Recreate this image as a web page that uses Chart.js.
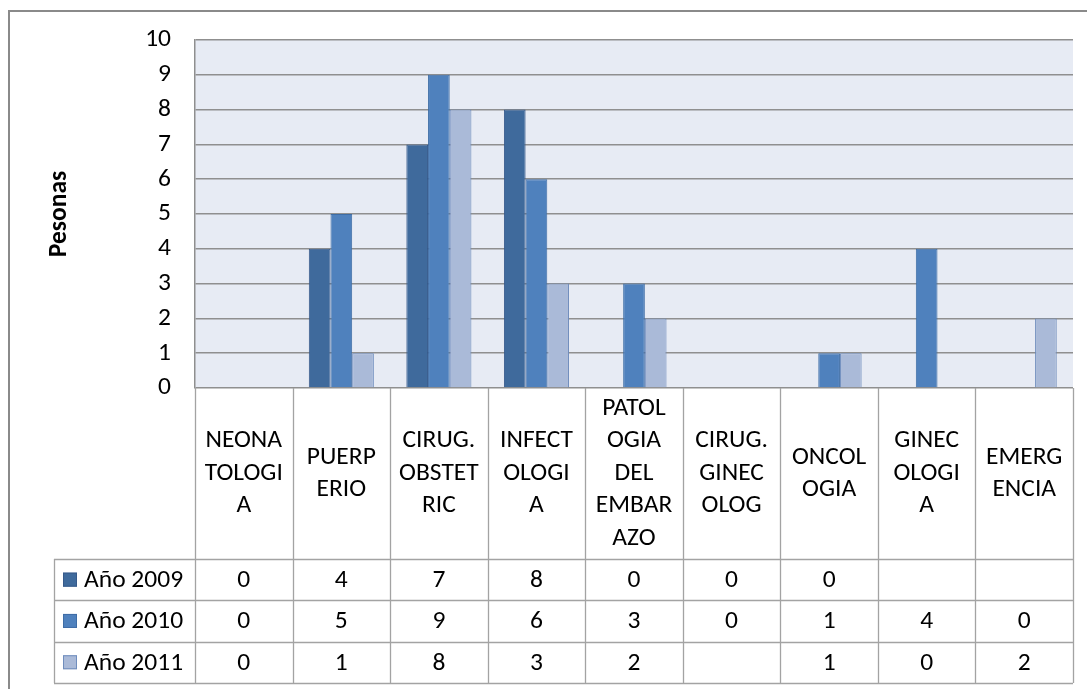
<!DOCTYPE html>
<html>
<head>
<meta charset="utf-8">
<script src="https://cdn.jsdelivr.net/npm/chart.js@4.4.1/dist/chart.umd.min.js"></script>
<style>
  html, body { margin: 0; padding: 0; background: #ffffff; }
  #wrap { width: 1087px; height: 689px; }
</style>
</head>
<body>
<div id="wrap"><canvas id="c" width="1087" height="689"></canvas></div>
<script>
// Servicios (etiquetas partidas en líneas como en la tabla de datos)
const categories = [
  ["NEONA", "TOLOGI", "A"],
  ["PUERP", "ERIO"],
  ["CIRUG.", "OBSTET", "RIC"],
  ["INFECT", "OLOGI", "A"],
  ["PATOL", "OGIA", "DEL", "EMBAR", "AZO"],
  ["CIRUG.", "GINEC", "OLOG"],
  ["ONCOL", "OGIA"],
  ["GINEC", "OLOGI", "A"],
  ["EMERG", "ENCIA"]
];
const seriesNames = ["Año 2009", "Año 2010", "Año 2011"];
const values2009 = [0, 4, 7, 8, 0, 0, 0, null, null];
const values2010 = [0, 5, 9, 6, 3, 0, 1, 4, 0];
const values2011 = [0, 1, 8, 3, 2, null, 1, 0, 2];
const yTicks = [0, 1, 2, 3, 4, 5, 6, 7, 8, 9, 10];
const axisTitle = "Pesonas";

const FONT = "Carlito, Lato, 'Liberation Sans', sans-serif";
const FONT_SIZE = 25.5;
const fills = ["#3F6A9C", "#4F81BD", "#AABAD8"];
const strokes = ["#36598A", "#3E6DA6", "#6F8DBD"];
const allSeries = [values2009, values2010, values2011];

// Fondo del área de trazado y marco exterior
const backgroundPlugin = {
  id: "plotBackground",
  beforeDraw(chart) {
    const { ctx, chartArea: a } = chart;
    ctx.save();
    ctx.fillStyle = "#ffffff";
    ctx.fillRect(0, 0, chart.width, chart.height);
    ctx.strokeStyle = "#8a8a8a";
    ctx.lineWidth = 2;
    ctx.strokeRect(9, 11, 2000, 2000);
    ctx.fillStyle = "#E7EBF4";
    ctx.fillRect(a.left, a.top, a.right - a.left, a.bottom - a.top);
    ctx.restore();
  }
};

// Tabla de datos bajo el eje de categorías
const dataTablePlugin = {
  id: "dataTable",
  afterDraw(chart) {
    const { ctx, chartArea: a } = chart;
    const x = chart.scales.x;
    const n = chart.data.labels.length;
    const colW = (a.right - a.left) / n;
    const headerBottom = 559;
    const rowH = 41.3;
    const tableBottom = headerBottom + rowH * 3;
    const legendLeft = 54;

    ctx.save();
    ctx.strokeStyle = "#a3a3a3";
    ctx.lineWidth = 1.3;
    ctx.beginPath();
    // vertical lines of the category columns
    for (let i = 0; i <= n; i++) {
      const px = Math.round(a.left + i * colW) + 0.5;
      ctx.moveTo(px, a.bottom);
      ctx.lineTo(px, tableBottom);
    }
    // legend column left edge
    ctx.moveTo(legendLeft + 0.5, headerBottom);
    ctx.lineTo(legendLeft + 0.5, tableBottom);
    // horizontal row lines
    for (let r = 0; r <= 3; r++) {
      const py = Math.round(headerBottom + r * rowH) + 0.5;
      ctx.moveTo(legendLeft, py);
      ctx.lineTo(a.right, py);
    }
    ctx.stroke();

    ctx.fillStyle = "#000000";
    ctx.font = FONT_SIZE + "px " + FONT;
    ctx.textAlign = "center";
    ctx.textBaseline = "middle";

    // header: category names, centred in each cell
    const headerMid = (a.bottom + headerBottom) / 2;
    const lineH = 32.5;
    chart.data.labels.forEach((lab, i) => {
      const cx = x.getPixelForValue(i);
      const lines = Array.isArray(lab) ? lab : [lab];
      const y0 = headerMid - (lines.length - 1) * lineH / 2;
      lines.forEach((t, k) => ctx.fillText(t, cx, y0 + k * lineH));
    });

    // value rows with legend keys
    chart.data.datasets.forEach((ds, r) => {
      const cy = headerBottom + rowH * (r + 0.5);
      ctx.fillStyle = ds.backgroundColor;
      ctx.fillRect(63, cy - 7, 14, 14);
      ctx.strokeStyle = ds.borderColor;
      ctx.lineWidth = 1;
      ctx.strokeRect(63.5, cy - 6.5, 13, 13);
      ctx.fillStyle = "#000000";
      ctx.textAlign = "left";
      ctx.fillText(ds.label, 84, cy + 1);
      ctx.textAlign = "center";
      ds.data.forEach((v, i) => {
        if (v === null || v === undefined) return;
        ctx.fillText(String(v), x.getPixelForValue(i), cy + 1);
      });
    });
    ctx.restore();
  }
};

new Chart(document.getElementById("c"), {
  type: "bar",
  data: {
    labels: categories,
    datasets: seriesNames.map((name, i) => ({
      label: name,
      data: allSeries[i],
      backgroundColor: fills[i],
      borderColor: strokes[i],
      borderWidth: (c) => (c.raw ? 1 : 0),
      categoryPercentage: 0.667,
      barPercentage: 1.0
    }))
  },
  options: {
    responsive: false,
    animation: false,
    devicePixelRatio: 1,
    layout: { padding: { left: 0, top: 40, right: 14, bottom: 301 } },
    plugins: {
      legend: { display: false },
      tooltip: { enabled: false }
    },
    scales: {
      x: {
        display: false
      },
      y: {
        min: 0,
        max: 10,
        afterFit(scale) { scale.width = 195; },
        afterBuildTicks(scale) { scale.ticks = yTicks.map(v => ({ value: v })); },
        ticks: {
          font: { family: FONT, size: FONT_SIZE },
          color: "#000000",
          padding: 24
        },
        grid: {
          color: "#8f8f8f",
          lineWidth: 1.5,
          drawTicks: false
        },
        border: { display: true, color: "#8f8f8f", width: 1.5 },
        title: {
          display: true,
          text: axisTitle,
          font: { family: FONT, size: FONT_SIZE, weight: "bold" },
          color: "#000000",
          padding: { top: 44, bottom: 0 }
        }
      }
    }
  },
  plugins: [backgroundPlugin, dataTablePlugin]
});
</script>
</body>
</html>
